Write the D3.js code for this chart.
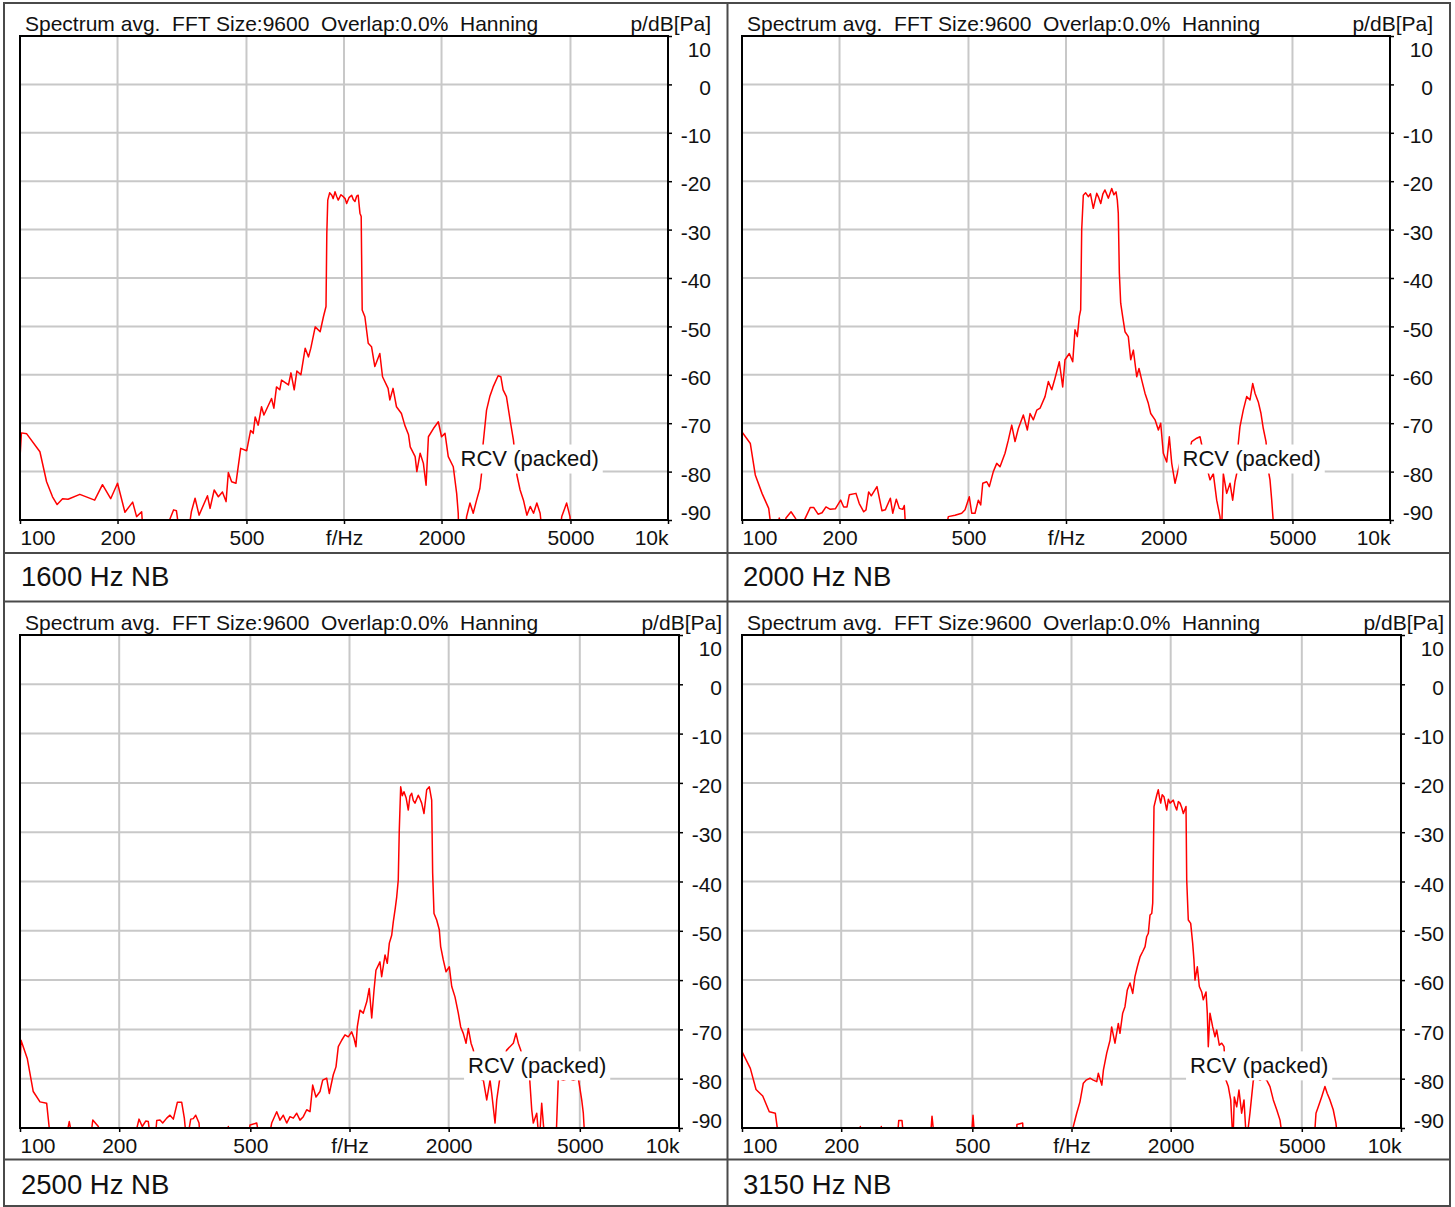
<!DOCTYPE html>
<html>
<head>
<meta charset="utf-8">
<script src="https://cdn.jsdelivr.net/npm/d3@7"></script>
<style>
  body { margin: 0; background: #fff; }
  text { font-family: "Liberation Sans", Arial, sans-serif; fill: #111; white-space: pre; }
</style>
</head>
<body>
<svg id="chart" width="1455" height="1207"></svg>
<script>
const panelNames = ["1600 Hz NB", "2000 Hz NB", "2500 Hz NB", "3150 Hz NB"];
const titleText = "Spectrum avg.  FFT Size:9600  Overlap:0.0%  Hanning";
const unitText = "p/dB[Pa]";
const freqTicks = [100, 200, 500, 1000, 2000, 5000, 10000];
const freqTickLabels = ["100", "200", "500", "f/Hz", "2000", "5000", "10k"];
const dbTicks = [10, 0, -10, -20, -30, -40, -50, -60, -70, -80, -90];
const rcvNote = { text: "RCV (packed)", f: 2290, db: -77.3 };

// [frequency Hz, level dB]; values under -90 fall off the bottom
const spectrum1600 = [
  [100,-77.2],[101,-72],[104.9,-72.2],[115.2,-75.9],[120.8,-82.1],[126,-85.2],[130.2,-86.8],[135.3,-85.6],
  [140.7,-85.7],[153,-84.7],[170,-85.9],[179.7,-82.7],[190.5,-85.6],[200,-82.4],[210.8,-88.4],[222.7,-86.3],
  [229,-89.3],[237.4,-88.3],[240,-93],[270,-95],[298,-87.9],[304,-88.1],[311,-93],[330,-93],[338,-88.3],
  [347,-85.5],[357,-89],[379,-85],[386,-87.6],[397.5,-83.8],[409.5,-85.2],[421.5,-84.2],[432.5,-86.2],
  [439.5,-80.2],[450,-82.1],[464,-82.4],[480,-75.2],[500.7,-75.7],[515,-71.5],[524.5,-72.1],[532,-68.7],
  [543.5,-70.4],[556.5,-66.6],[566,-68.3],[597.5,-64.9],[607.5,-66.9],[619,-62.5],[633.5,-63.1],[641.5,-61.1],
  [674,-62.1],[686,-59.6],[702,-63.1],[715.5,-59.2],[736,-60],[759,-54.5],[777,-56.3],[790,-54.5],[815,-50.1],
  [844,-51.1],[864,-48],[880,-45.9],[885,-30.8],[891,-23.9],[903,-22.4],[917,-22.9],[926,-23.6],[938,-22.2],
  [950,-23.2],[960,-23.9],[978,-22.8],[995,-23.2],[1008,-23.6],[1019,-24.6],[1036,-23.4],[1056,-22.9],
  [1068,-23.8],[1081,-24.2],[1094,-23.1],[1106,-22.9],[1120,-26.6],[1130,-27.3],[1138,-46.6],[1160,-48],
  [1188,-53.5],[1216,-54.2],[1245,-58.3],[1290,-55.6],[1315,-60.4],[1368,-62.8],[1385,-65.2],[1417,-62.8],
  [1452,-66.6],[1504,-68],[1540,-70.4],[1582,-72.4],[1601,-74.9],[1658,-76.9],[1678,-80],[1718,-76.2],
  [1758,-78.3],[1792,-82.8],[1822,-72.8],[1888,-71.1],[1955,-69.7],[2000,-72.8],[2050,-72.1],[2098,-76.9],
  [2174,-79],[2227,-84.5],[2252,-88.6],[2264,-95],[2344,-95],[2390,-89.3],[2448,-86.5],[2505,-88.6],
  [2566,-85.9],[2626,-83.5],[2658,-80.4],[2688,-74.2],[2754,-67.3],[2818,-64.5],[2886,-62.5],[2990,-60.2],
  [3048,-60.4],[3098,-63.1],[3172,-64.5],[3262,-69.7],[3334,-73.5],[3417,-80.7],[3496,-83.8],[3580,-85.9],
  [3668,-89],[3757,-87.2],[3846,-88.6],[3937,-86.5],[4030,-88.6],[4125,-95],[4577,-95],[4700,-89.3],
  [4866,-86.5],[4983,-89.3],[5050,-95],[10000,-95]
];

const spectrum2000 = [
  [100,-71.8],[106.1,-74.2],[109.9,-80.7],[115.3,-84.5],[120.9,-87.6],[123.2,-92],[127.3,-93],[130.3,-89.6],
  [133.8,-92],[136.7,-89.6],[141.7,-88.3],[146.1,-89.6],[151,-92],[156.8,-89.6],[162.5,-87.4],[166.4,-87.4],
  [171.7,-88.8],[176.6,-88.5],[181.6,-87.3],[187.3,-87.8],[194.1,-87.7],[201.6,-85.9],[206,-87.3],
  [210.9,-87.3],[214.4,-84.8],[224.8,-84.5],[230.1,-86.6],[237.5,-88.3],[241.4,-87.9],[246,-84.2],
  [250.6,-85],[261,-83.1],[270.4,-88.1],[276.9,-87.9],[287,-85.5],[291.9,-88.6],[299.4,-85.7],[305.9,-87.6],
  [313.3,-87.8],[316.9,-87],[320.8,-93],[423.3,-93],[433.3,-89.3],[454.4,-89],[476.5,-88.6],[488,-87.9],
  [503,-85.2],[511.7,-88.6],[523.8,-88.6],[536.3,-85.9],[545.5,-86.9],[553.4,-82.4],[569.3,-82.1],
  [579.9,-83.1],[596.6,-80],[611.2,-78.3],[625.7,-79],[648.3,-76.2],[663.7,-73.5],[680,-70.4],[696.1,-73.8],
  [712.7,-71.1],[738.4,-68.3],[759.8,-71.4],[774.5,-68],[792.9,-69.3],[812.3,-67.3],[831.6,-66.9],
  [861.6,-64.5],[882.1,-61.4],[903.6,-63.1],[924.9,-60.7],[953.5,-57.3],[976.8,-62.5],[992.9,-56.9],
  [1023.8,-55.6],[1049,-57.3],[1066,-50.7],[1083.6,-52.1],[1099,-48],[1110,-46.6],[1118,-30.1],[1131,-22.9],
  [1150,-22.4],[1172,-23.2],[1190,-22.6],[1214,-25.6],[1244,-22.5],[1262,-23.4],[1280,-24.6],[1300,-22.6],
  [1319,-21.8],[1351,-23.5],[1384,-21.5],[1405,-22.8],[1427,-22.2],[1440,-23.9],[1450,-26.6],[1461,-39],
  [1475,-45.2],[1496,-48],[1521,-51.1],[1557,-52.1],[1584,-56.9],[1614,-54.9],[1653,-60.4],[1680,-58.7],
  [1713,-61.1],[1753,-63.8],[1795,-65.9],[1826,-68],[1883,-69.3],[1928,-71.4],[1960,-70],[1997,-76.2],
  [2046,-78],[2084,-72.8],[2120,-78.3],[2170,-82.4],[2206,-80.4],[2249,-78],[2330,-79.7],[2443,-73.8],
  [2532,-73.1],[2592,-72.8],[2685,-77.6],[2783,-81.7],[2849,-80.4],[2918,-85.9],[2987,-89.3],[3020,-93],
  [3059,-80.4],[3133,-84.5],[3208,-82.4],[3269,-85.9],[3323,-82.1],[3364,-80.4],[3402,-74.2],[3443,-70.7],
  [3525,-67.3],[3611,-64.5],[3697,-65.2],[3769,-61.8],[3831,-63.8],[3922,-65.6],[3998,-68],[4064,-71.1],
  [4143,-73.8],[4211,-79.7],[4262,-81.7],[4314,-85.9],[4363,-90.4],[4447,-93],[10000,-93]
];

const spectrum2500 = [
  [100,-77.9],[100.7,-72.2],[105.2,-75.9],[109.7,-82.6],[115,-84.7],[120.5,-85],[124,-93],[137,-93],
  [141.1,-88.7],[145.1,-93],[163.1,-93],[166.3,-88.4],[172.9,-89.7],[174.9,-93],[220.8,-93],[229.7,-88.2],
  [235,-89.7],[240.7,-88.6],[245.1,-88.7],[249.8,-93],[256.8,-93],[260,-88.5],[266,-88.4],[271.1,-89],
  [278.8,-88],[285.3,-87.4],[292,-88.2],[300.3,-84.8],[309.6,-84.8],[315.3,-88],[320.6,-93],[329.7,-88.2],
  [335.7,-88.1],[341.4,-87.4],[349.4,-89],[353,-93],[422,-93],[428.8,-89.7],[433.9,-93],[492,-93],
  [498.9,-89.4],[523,-89],[535.1,-93],[565.7,-93],[580.6,-89],[601.3,-86.7],[615.3,-88.4],[629.6,-87.4],
  [644.8,-89],[659.8,-87.7],[675.3,-88],[691.5,-87],[707.6,-88.4],[724.1,-87.7],[741.5,-86.3],[758.8,-86.7],
  [773.2,-81.3],[791.2,-83.7],[813.7,-82.6],[829.2,-80.3],[852.6,-79.9],[868.3,-83],[892.9,-79.2],
  [909.9,-77.6],[924.7,-73.5],[946.9,-72.2],[969,-71.1],[991.7,-71.5],[1015,-70.5],[1032,-71.8],[1046,-73.5],
  [1056,-69.5],[1076,-66.1],[1101,-66.7],[1128,-64.4],[1148,-61.7],[1168,-67.7],[1187,-62],[1203,-58],
  [1237,-56.3],[1252,-59.3],[1282,-54.9],[1302,-56.6],[1321,-52.5],[1343,-50.9],[1358,-48.2],[1377,-45.4],
  [1391,-43.1],[1406,-39.7],[1416,-29.6],[1430,-20.8],[1446,-22.6],[1463,-21.8],[1485,-23],[1508,-25.5],
  [1526,-22.7],[1544,-22.1],[1562,-23.6],[1580,-24.1],[1617,-22.5],[1636,-23.2],[1656,-24.1],[1683,-26.2],
  [1715,-21.4],[1747,-20.8],[1776,-23.5],[1788,-38.3],[1805,-46.5],[1839,-47.8],[1873,-49.8],[1891,-53.2],
  [1926,-55.9],[1963,-58.3],[2009,-57.3],[2043,-61.3],[2090,-63.4],[2139,-66.7],[2175,-69.5],[2215,-70.8],
  [2258,-72.8],[2294,-69.8],[2338,-72.8],[2376,-74.2],[2460,-79.9],[2548,-80.3],[2609,-84.3],[2670,-80.3],
  [2702,-83],[2765,-89],[2798,-84.3],[2849,-80.6],[2924,-76.2],[3000,-74.2],[3142,-72.8],[3201,-70.8],
  [3253,-72.8],[3308,-74.2],[3409,-77.2],[3513,-78.9],[3573,-86.3],[3613,-89],[3700,-87],[3767,-93],
  [3831,-85],[3874,-89],[3920,-93],[4233,-93],[4302,-79.9],[4456,-80.3],[4613,-79.9],[4778,-80.3],
  [4948,-79.9],[5067,-84.3],[5124,-87],[5185,-93],[10000,-93]
];

const spectrum3150 = [
  [100,-74.5],[106,-77.9],[110.3,-82.2],[115.6,-83.5],[121,-86.7],[126.2,-87],[129.8,-93],[224.9,-93],
  [228.6,-89.7],[231.3,-93],[261.4,-93],[264.7,-89.7],[267.9,-93],[295.4,-93],[299,-88.5],[305.9,-88.5],
  [310.2,-93],[372.1,-93],[377.3,-87.6],[384.5,-93],[495.5,-93],[502.5,-87.4],[509.5,-93],[680,-93],
  [683,-89.3],[711,-89],[715,-93],[1003.5,-93],[1012.7,-89.7],[1037,-87],[1061,-84.7],[1086,-80.9],
  [1107,-80.3],[1138,-79.9],[1165,-80.3],[1193,-80.6],[1206,-78.9],[1236,-81.3],[1250,-78.2],[1279,-74.8],
  [1309,-72.2],[1324,-69.5],[1355,-72.8],[1387,-68.8],[1403,-70.8],[1430,-66.7],[1453,-65.4],[1477,-62],
  [1505,-60.6],[1534,-62.7],[1558,-59.3],[1584,-57.3],[1614,-55.3],[1645,-54.2],[1672,-53.2],[1691,-51.2],
  [1711,-50.5],[1731,-46.8],[1752,-46.5],[1764,-44.4],[1780,-24.8],[1814,-22.5],[1834,-21.4],[1850,-23],
  [1865,-24.1],[1885,-22.4],[1908,-22.8],[1925,-24],[1945,-25.5],[1968,-23.3],[1991,-24.1],[2037,-23.5],
  [2060,-24.6],[2086,-25.5],[2110,-23.8],[2135,-24.1],[2160,-25],[2185,-26.2],[2226,-24.8],[2237,-39.7],
  [2262,-47.8],[2300,-48.5],[2332,-52.5],[2353,-55.9],[2370,-60],[2409,-57.3],[2443,-61.3],[2484,-62.4],
  [2512,-64],[2560,-62.4],[2583,-66.7],[2601,-73.5],[2632,-66.7],[2682,-69.5],[2726,-71.5],[2758,-70.1],
  [2809,-73.2],[2857,-72.8],[2903,-73.5],[2944,-80.3],[2992,-81.6],[3042,-84.3],[3091,-93],[3119,-83.7],
  [3172,-85.7],[3223,-82.3],[3284,-87],[3338,-84.3],[3397,-93],[3480,-87],[3563,-80.3],[3648,-79.9],
  [3733,-80.3],[3820,-79.9],[3912,-80.3],[4003,-81.6],[4097,-84.3],[4196,-86.3],[4294,-88.4],[4385,-93],
  [5445,-93],[5521,-87],[5610,-85.7],[5743,-83.7],[5877,-81.6],[5973,-83],[6086,-84.3],[6228,-86.3],
  [6347,-89],[6437,-93],[10000,-93]
];

const spectra = [spectrum1600, spectrum2000, spectrum2500, spectrum3150];

// plot rectangles of the four panels
const frames = [
  { left: 20, right: 668, top: 36, bottom: 520 },
  { left: 742, right: 1390, top: 36, bottom: 520 },
  { left: 20, right: 679, top: 635, bottom: 1128 },
  { left: 742, right: 1401, top: 635, bottom: 1128 }
];

const svg = d3.select("#chart");
const lineColor = "#4a4a4a";

// outer frame and separators
svg.append("rect")
  .attr("x", 4).attr("y", 3)
  .attr("width", 1446).attr("height", 1203)
  .attr("fill", "none").attr("stroke", lineColor).attr("stroke-width", 2);
svg.append("line")
  .attr("x1", 727.5).attr("x2", 727.5).attr("y1", 3).attr("y2", 1206)
  .attr("stroke", lineColor).attr("stroke-width", 2);
[553, 601.5, 1159.5].forEach(yy => {
  svg.append("line")
    .attr("x1", 4).attr("x2", 1450).attr("y1", yy).attr("y2", yy)
    .attr("stroke", lineColor).attr("stroke-width", 2);
});

frames.forEach((fr, i) => {
  const g = svg.append("g").attr("class", `panel-${i}`);
  const x = d3.scaleLog().domain([100, 10000]).range([fr.left, fr.right]);
  const y = d3.scaleLinear().domain([-90, 10]).range([fr.bottom, fr.top]);

  // grid
  g.append("g").selectAll("line.vx")
    .data(freqTicks)
    .join("line")
    .attr("x1", d => x(d)).attr("x2", d => x(d))
    .attr("y1", fr.top).attr("y2", fr.bottom)
    .attr("stroke", "#c8c8c8").attr("stroke-width", 2);
  g.append("g").selectAll("line.hy")
    .data(dbTicks)
    .join("line")
    .attr("x1", fr.left).attr("x2", fr.right)
    .attr("y1", d => y(d)).attr("y2", d => y(d))
    .attr("stroke", "#c8c8c8").attr("stroke-width", 2);

  // spectrum curve, clipped to the plot box
  g.append("clipPath").attr("id", `clip-${i}`)
    .append("rect")
    .attr("x", fr.left).attr("y", fr.top)
    .attr("width", fr.right - fr.left).attr("height", fr.bottom - fr.top);

  const line = d3.line().x(d => x(d[0])).y(d => y(d[1]));
  g.append("path")
    .datum(spectra[i])
    .attr("clip-path", `url(#clip-${i})`)
    .attr("d", line)
    .attr("fill", "none")
    .attr("stroke", "#ff0000")
    .attr("stroke-width", 1.5)
    .attr("stroke-linejoin", "round");

  // RCV note on a white box
  const note = g.append("g");
  const noteText = note.append("text")
    .attr("x", x(rcvNote.f))
    .attr("y", y(rcvNote.db))
    .attr("dy", "0.36em")
    .attr("font-size", 22)
    .text(rcvNote.text);
  const bb = noteText.node().getBBox();
  note.insert("rect", "text")
    .attr("x", bb.x - 4).attr("y", y(rcvNote.db) - 14)
    .attr("width", bb.width + 8).attr("height", 29)
    .attr("fill", "#fff");

  // plot border
  g.append("rect")
    .attr("x", fr.left).attr("y", fr.top)
    .attr("width", fr.right - fr.left).attr("height", fr.bottom - fr.top)
    .attr("fill", "none").attr("stroke", "#000").attr("stroke-width", 2);

  // x axis
  const xAxis = g.append("g")
    .attr("transform", `translate(0,${fr.bottom})`)
    .call(d3.axisBottom(x)
      .tickValues(freqTicks)
      .tickFormat((d, k) => freqTickLabels[k])
      .tickSize(4)
      .tickSizeOuter(0));
  xAxis.select(".domain").remove();
  xAxis.selectAll(".tick line").attr("stroke", "#000").attr("stroke-width", 1.5);
  xAxis.selectAll(".tick text")
    .attr("y", 25).attr("dy", null)
    .attr("font-size", 21)
    .attr("fill", "#111")
    .attr("text-anchor", (d, k) => k === 0 ? "start" : k === freqTicks.length - 1 ? "end" : "middle");
  xAxis.attr("font-family", null).attr("font-size", null);

  // y axis on the right, plain hyphen minus like the original
  const yAxis = g.append("g")
    .attr("transform", `translate(${fr.right},0)`)
    .call(d3.axisRight(y)
      .tickValues(dbTicks)
      .tickFormat(d => String(d))
      .tickSize(4)
      .tickSizeOuter(0));
  yAxis.select(".domain").remove();
  yAxis.selectAll(".tick line").attr("stroke", "#000").attr("stroke-width", 1.5);
  yAxis.selectAll(".tick text")
    .attr("x", 43)
    .attr("text-anchor", "end")
    .attr("font-size", 21)
    .attr("fill", "#111")
    .attr("y", d => d === 10 ? 14 : d === -90 ? -7 : 3);
  yAxis.attr("font-family", null).attr("font-size", null);

  // header and panel name
  g.append("text")
    .attr("x", fr.left + 5).attr("y", fr.top - 5)
    .attr("font-size", 21)
    .text(titleText);
  g.append("text")
    .attr("x", fr.right + 43).attr("y", fr.top - 5)
    .attr("text-anchor", "end")
    .attr("font-size", 21)
    .text(unitText);
  g.append("text")
    .attr("x", fr.left + 1).attr("y", fr.bottom + 66)
    .attr("font-size", 27.5)
    .text(panelNames[i]);
});
</script>
</body>
</html>
